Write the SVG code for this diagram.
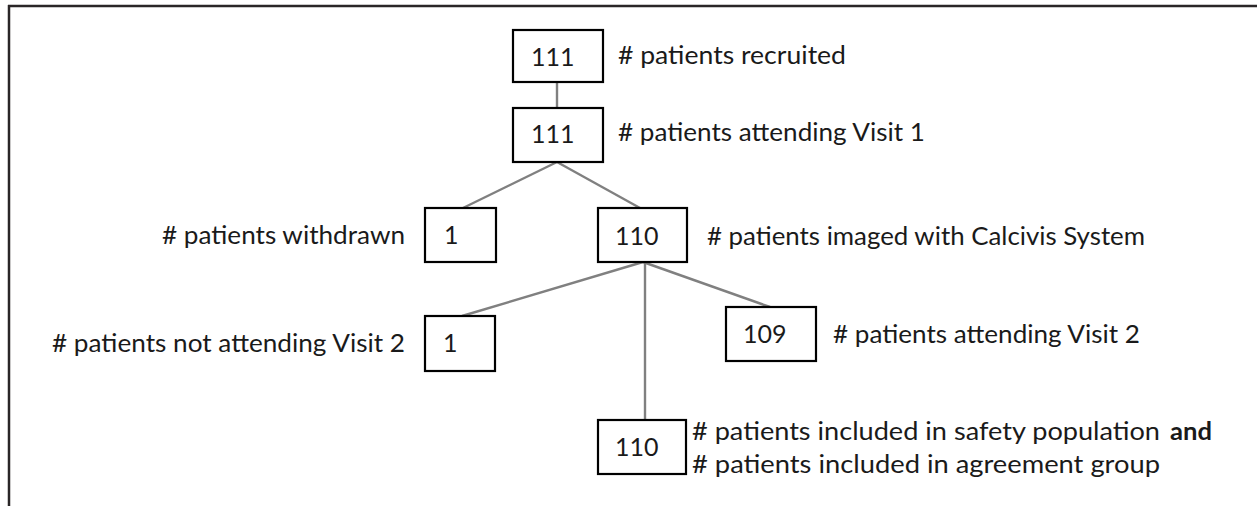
<svg xmlns="http://www.w3.org/2000/svg" width="1257" height="506" viewBox="0 0 1257 506">
<style>
.frame{stroke:#2a2627;stroke-width:2.5;fill:none}
.box{fill:#fff;stroke:#000;stroke-width:2.2}
.conn{stroke:#808080;stroke-width:2.4;fill:none}
text{font-family:Lato,"Open Sans","Liberation Sans",sans-serif;font-size:25px;fill:#1a1a1a}
.b{font-weight:bold}
</style>
<rect width="1257" height="506" fill="#fff"/>
<g id="frame">
<line class="frame" x1="8" y1="6" x2="1257" y2="6"/>
<line class="frame" x1="9" y1="5" x2="9" y2="506"/>
</g>
<g id="connectors">
<line class="conn" x1="557" y1="82" x2="557" y2="108"/>
<line class="conn" x1="557" y1="162" x2="463" y2="208"/>
<line class="conn" x1="557" y1="162" x2="640" y2="208"/>
<line class="conn" x1="643" y1="262" x2="462" y2="316"/>
<line class="conn" x1="643" y1="262" x2="770" y2="307"/>
<line class="conn" x1="645" y1="262" x2="645" y2="420"/>
</g>
<g id="n1">
<rect class="box" x="513" y="30" width="90" height="52"/>
<text x="531" y="66">111</text>
<text x="618" y="64" textLength="228" lengthAdjust="spacingAndGlyphs"># patients recruited</text>
</g>
<g id="n2">
<rect class="box" x="513" y="108" width="90" height="54"/>
<text x="531" y="143">111</text>
<text x="618" y="141" textLength="307" lengthAdjust="spacingAndGlyphs"># patients attending Visit 1</text>
</g>
<g id="n3">
<rect class="box" x="425" y="208" width="71" height="54"/>
<text x="444" y="244">1</text>
<text x="162" y="244" textLength="243" lengthAdjust="spacingAndGlyphs"># patients withdrawn</text>
</g>
<g id="n4">
<rect class="box" x="598" y="208" width="89" height="54"/>
<text x="615" y="245">110</text>
<text x="707" y="245" textLength="438" lengthAdjust="spacingAndGlyphs"># patients imaged with Calcivis System</text>
</g>
<g id="n5">
<rect class="box" x="425" y="316" width="70" height="55"/>
<text x="443" y="352">1</text>
<text x="52" y="352" textLength="353" lengthAdjust="spacingAndGlyphs"># patients not attending Visit 2</text>
</g>
<g id="n6">
<rect class="box" x="726" y="307" width="90" height="54"/>
<text x="743" y="343">109</text>
<text x="833" y="343" textLength="307" lengthAdjust="spacingAndGlyphs"># patients attending Visit 2</text>
</g>
<g id="n7">
<rect class="box" x="598" y="420" width="88" height="54"/>
<text x="615" y="456">110</text>
<text x="692" y="440" textLength="468" lengthAdjust="spacingAndGlyphs"># patients included in safety population</text>
<text class="b" x="1170" y="440" textLength="42" lengthAdjust="spacingAndGlyphs">and</text>
<text x="692" y="473" textLength="468" lengthAdjust="spacingAndGlyphs"># patients included in agreement group</text>
</g>
</svg>
